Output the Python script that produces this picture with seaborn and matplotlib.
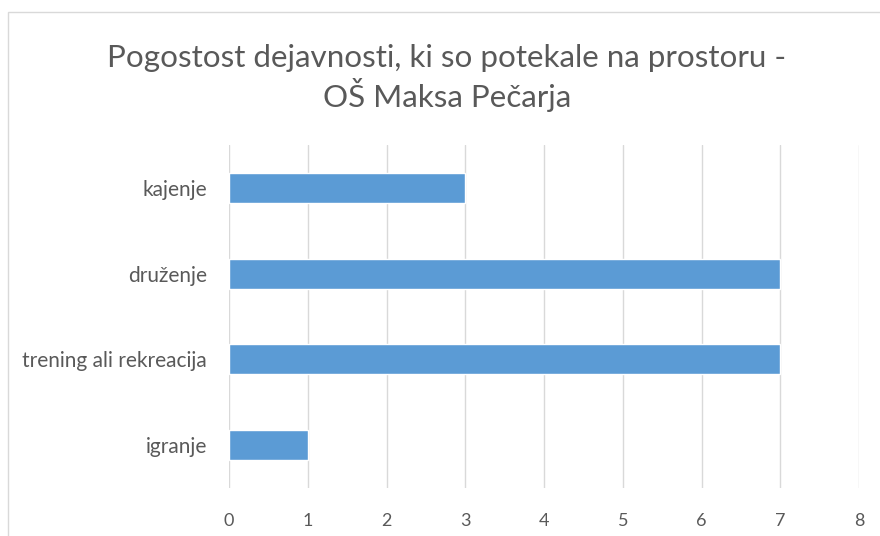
import matplotlib
matplotlib.use("Agg")
import matplotlib.pyplot as plt
import seaborn as sns
import pandas as pd
from matplotlib.patches import Rectangle

categories = ["kajenje", "druženje", "trening ali rekreacija", "igranje"]
values = [3, 7, 7, 1]
x_ticks = [0, 1, 2, 3, 4, 5, 6, 7, 8]
title = "Pogostost dejavnosti, ki so potekale na prostoru -\nOŠ Maksa Pečarja"

df = pd.DataFrame({"dejavnost": categories, "pogostost": values})

sns.set_style("white")
plt.rcParams["font.family"] = ["Lato", "DejaVu Sans"]

fig = plt.figure(figsize=(8.8, 5.36), dpi=100)
ax = fig.add_axes([229 / 880, 1 - 488 / 536, 630 / 880, 343 / 536])

sns.barplot(data=df, x="pogostost", y="dejavnost", color="#5B9BD5",
            width=0.35, saturation=1, ax=ax, zorder=3)

ax.set_xlim(0, 8)
ax.set_ylim(3.5, -0.5)
ax.set_xticks(x_ticks)
ax.grid(axis="x", color="#D9D9D9", linewidth=1, zorder=0)
ax.grid(axis="y", visible=False)
for s in ax.spines.values():
    s.set_visible(False)
ax.set_xlabel("")
ax.set_ylabel("")
ax.tick_params(axis="both", length=0, labelcolor="#595959")
ax.tick_params(axis="x", pad=18, labelsize=13)
ax.tick_params(axis="y", pad=16, labelsize=15)

fig.text(0.508, 0.855, title, ha="center", va="center", fontsize=22.6,
         color="#595959", linespacing=1.2)

fig.patches.append(Rectangle((8 / 880, -0.1), 1.2, 1 - 12 / 536 + 0.1,
                             transform=fig.transFigure, fill=False,
                             edgecolor="#D9D9D9", linewidth=1))

fig.savefig("out.png", dpi=100)
